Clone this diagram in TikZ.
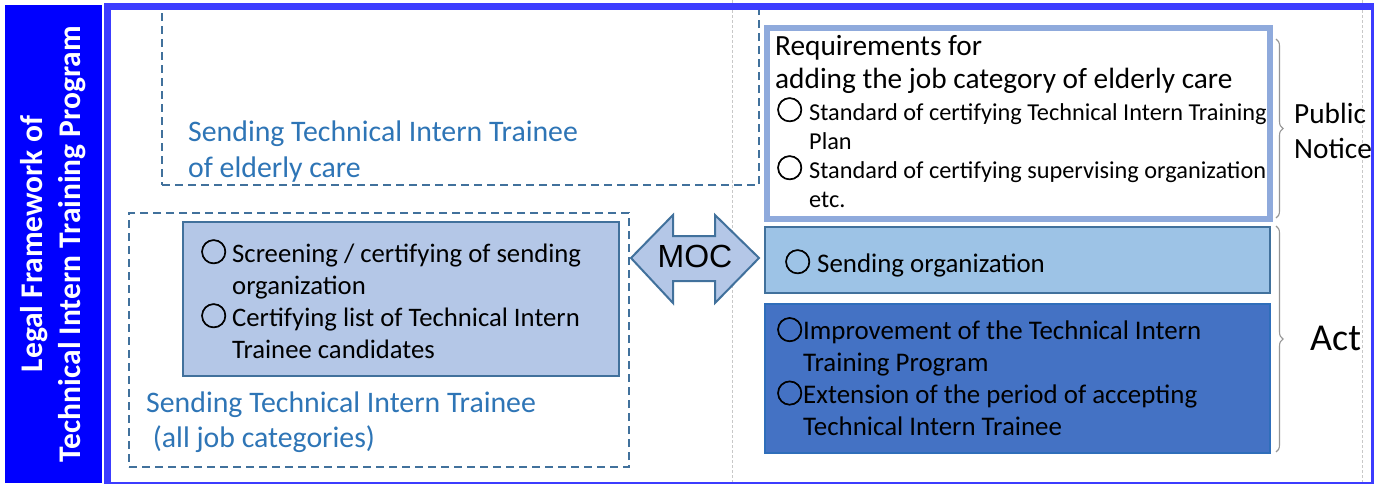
\documentclass[tikz,border=0pt]{standalone}
\usepackage{fontspec}
\setmainfont{Carlito}
\newfontfamily\arialf{Liberation Sans}
\newfontfamily\cjkf{Noto Sans CJK JP}[FakeBold=2.5]
\usetikzlibrary{decorations.pathreplacing}
\definecolor{barblue}{RGB}{0,0,255}
\definecolor{frameblue}{RGB}{60,60,255}
\definecolor{dashblue}{RGB}{65,113,156}
\definecolor{txtblue}{RGB}{46,117,182}
\definecolor{lightfill}{RGB}{180,199,231}
\definecolor{reqborder}{RGB}{143,170,220}
\definecolor{orgfill}{RGB}{157,195,230}
\definecolor{darkfill}{RGB}{68,114,196}
\definecolor{darkborder}{RGB}{47,110,186}
\definecolor{guide}{RGB}{200,200,200}
\definecolor{bracegray}{RGB}{150,150,150}
\newcommand{\bul}[1]{{\cjkf\fontsize{27}{27}\selectfont ○}\hspace{#1}}
\newcommand{\ind}[1]{\hphantom{\bul{#1}}}
\tikzset{
  boxnode/.style={anchor=north west, inner sep=0pt, outer sep=0pt},
  dashbox/.style={boxnode, draw=dashblue, line width=2.2pt, dash pattern=on 8pt off 5pt},
  txt/.style={anchor=base west, inner sep=0pt, align=left},
  guideline/.style={draw=guide, line width=0.8pt, dash pattern=on 3pt off 2pt},
  bracestyle/.style={draw=bracegray, line width=1.1pt, decorate, decoration={brace, amplitude=7pt}},
}
\begin{document}
\begin{tikzpicture}[x=1pt,y=-1pt]
\useasboundingbox (0,0) rectangle (1374,483);
\clip (0,0) rectangle (1374,483);
\fill[white] (0,0) rectangle (1374,483);
% left bar
\node[boxnode, fill=barblue, minimum width=97pt, minimum height=478pt] (bar) at (5,5) {};
\node[rotate=90, text=white, align=center, font=\bfseries\fontsize{31.5}{38}\selectfont] (bartext) at (bar.center) {Legal Framework of\\Technical Intern Training Program};
% guide lines
\coordinate (g1t) at (732,0); \coordinate (g1b) at (732,483);
\coordinate (g2t) at (1362,0); \coordinate (g2b) at (1362,483);
\draw[guideline] (g1t) -- (g1b);
\draw[guideline] (g2t) -- (g2b);
% top dashed box
\node[dashbox, minimum width=597pt, minimum height=178pt] (elder) at (162,7) {};
\node[txt, text=txtblue, font=\fontsize{29.8}{36}\selectfont] (eldertxt) at (188,177) {Sending Technical Intern Trainee\\of elderly care};
% bottom dashed box
\node[dashbox, minimum width=500pt, minimum height=254pt] (allbox) at (129,213) {};
\node[boxnode, fill=lightfill, draw=dashblue, line width=2pt, minimum width=436pt, minimum height=154pt] (screen) at (183,222) {};
\node[txt, font=\fontsize{26.7}{32}\selectfont] (screentxt) at (200,358) {\bul{5pt}Screening / certifying of sending\\\ind{5pt}organization\\\bul{5pt}Certifying list of Technical Intern\\\ind{5pt}Trainee candidates};
\node[txt, text=txtblue, font=\fontsize{29.8}{35}\selectfont] (alltxt) at (146,447) {Sending Technical Intern Trainee\\\ (all job categories)};
% MOC arrow
\draw[fill=lightfill, draw=dashblue, line width=2pt, line join=miter] (631,258) -- (673,215) -- (673,236) -- (715,236) -- (715,215) -- (759,258) -- (715,303) -- (715,281) -- (673,281) -- (673,303) -- cycle;
\node[inner sep=0pt, font=\arialf\fontsize{32}{32}\selectfont] (moc) at (695,256) {MOC};
% requirements box
\node[boxnode, fill=white, draw=reqborder, line width=6pt, minimum width=503pt, minimum height=191pt] (req) at (767,28) {};
\node[txt, font=\fontsize{29.3}{33}\selectfont] (reqtitle) at (775,88) {Requirements for\\adding the job category of elderly care};
\node[txt, font=\fontsize{24.3}{29}\selectfont] (reqlist) at (776,207) {\bul{6pt}Standard of certifying Technical Intern Training\\\ind{6pt}Plan\\\bul{6pt}Standard of certifying supervising organization\\\ind{6pt}etc.};
% sending organization
\node[boxnode, fill=orgfill, draw=dashblue, line width=2pt, minimum width=505pt, minimum height=66pt] (org) at (765,227) {};
\node[txt, font=\fontsize{26.9}{30}\selectfont] (orgtxt) at (784,272) {\bul{6pt}Sending organization};
% act box
\node[boxnode, fill=darkfill, draw=darkborder, line width=1.5pt, minimum width=505pt, minimum height=149pt] (act) at (765,304) {};
\node[txt, font=\fontsize{26.9}{31.7}\selectfont] (acttxt) at (776,435) {\bul{0pt}Improvement of the Technical Intern\\\ind{0pt}Training Program\\\bul{0pt}Extension of the period of accepting\\\ind{0pt}Technical Intern Trainee};
% frame
\node[boxnode, draw=frameblue, line width=7pt, minimum width=1267pt, minimum height=479pt] (frame) at (107.5,6.5) {};
% braces
\coordinate (b1t) at (1276,39); \coordinate (b1b) at (1276,218);
\coordinate (b2t) at (1276,226); \coordinate (b2b) at (1276,452);
\draw[bracestyle] (b1t) -- (b1b);
\draw[bracestyle] (b2t) -- (b2b);
\node[txt, font=\fontsize{29.3}{35}\selectfont] (pubtxt) at (1294,158) {Public\\Notice};
\node[txt, font=\fontsize{38}{38}\selectfont] (acttag) at (1310,350) {Act};
\end{tikzpicture}
\end{document}
